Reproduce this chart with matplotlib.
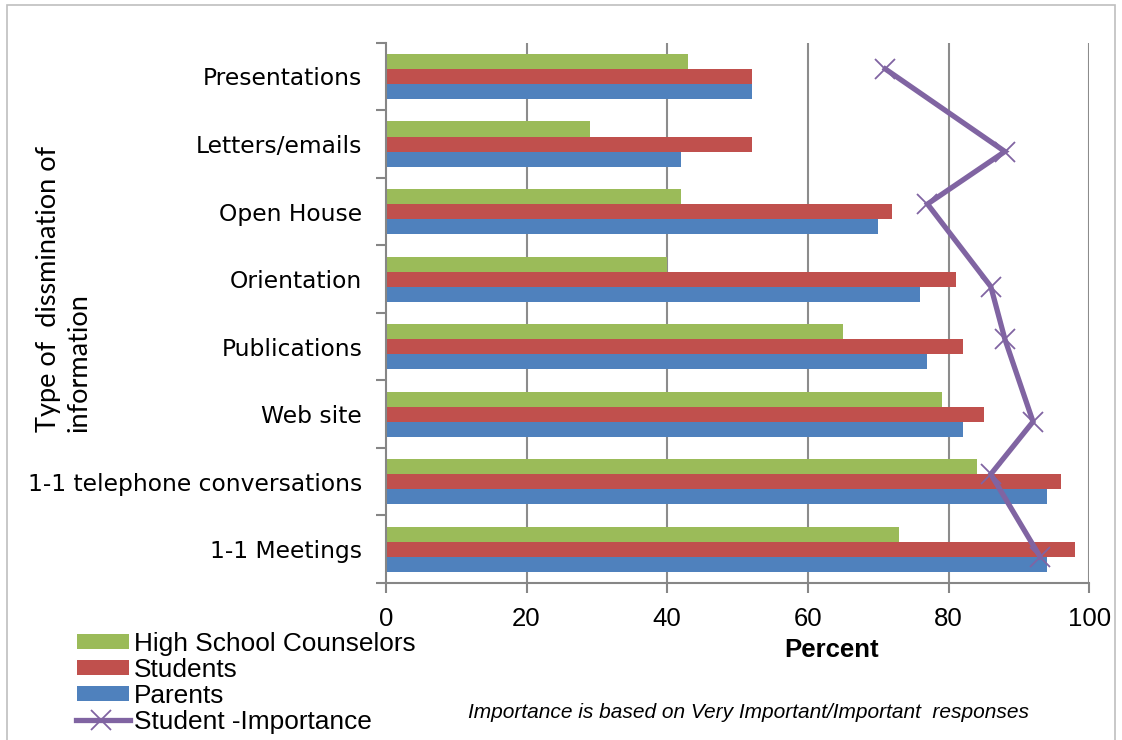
import numpy as np
import matplotlib
matplotlib.use("Agg")
import matplotlib.pyplot as plt
from matplotlib.patches import Rectangle
from matplotlib.lines import Line2D

# --- data -------------------------------------------------------------
categories = [
    "Presentations",
    "Letters/emails",
    "Open House",
    "Orientation",
    "Publications",
    "Web site",
    "1-1 telephone conversations",
    "1-1 Meetings",
]
counselors = [43, 29, 42, 40, 65, 79, 84, 73]
students = [52, 52, 72, 81, 82, 85, 96, 98]
parents = [52, 42, 70, 76, 77, 82, 94, 94]
student_importance = [71, 88, 77, 86, 88, 92, 86, 93]

series_names = ["High School Counselors", "Students", "Parents", "Student -Importance"]
x_ticks = [0, 20, 40, 60, 80, 100]

# --- styling ----------------------------------------------------------
GREEN = "#9BBB59"
RED = "#C0504D"
BLUE = "#4F81BD"
PURPLE = "#8064A2"
GRID = "#8C8C8C"
AXIS = "#868686"

W, H = 1122, 740
fig = plt.figure(figsize=(W / 100, H / 100), dpi=100)


def fx(px):
    return px / W


def fy(py):
    return 1 - py / H


# outer chart frame
fig.add_artist(Rectangle((fx(7), fy(760)), fx(1115) - fx(7), fy(5) - fy(760),
                         transform=fig.transFigure, fill=False,
                         edgecolor="#BFBFBF", linewidth=1.2))

left_px, right_px, top_px, bottom_px = 385.8, 1089.3, 42.7, 583.0
ax = fig.add_axes([fx(left_px), fy(bottom_px),
                   fx(right_px) - fx(left_px), fy(top_px) - fy(bottom_px)])

idx = np.arange(len(categories))
bar_h = 1 / 4.5

ax.barh(idx - bar_h, counselors, height=bar_h, color=GREEN, zorder=2)
ax.barh(idx, students, height=bar_h, color=RED, zorder=2)
ax.barh(idx + bar_h, parents, height=bar_h, color=BLUE, zorder=2)

# importance line runs along alternating bar seams
side = np.where(idx % 2 == 0, -0.5, 0.5) * bar_h
ax.plot(student_importance, idx + side, color=PURPLE, linewidth=3.8,
        marker="x", markersize=14, markeredgewidth=1.3,
        solid_joinstyle="miter", zorder=4, clip_on=False)

ax.set_xlim(0, 100)
ax.set_ylim(len(categories) - 0.5, -0.5)

for v in x_ticks[1:]:
    ax.axvline(v, color=GRID, linewidth=1.5, zorder=1)

ax.set_xticks(x_ticks)
ax.set_xticklabels([str(v) for v in x_ticks], fontsize=18.5,
                   family="Liberation Sans")
ax.tick_params(axis="x", direction="out", length=7, width=1.5, color=AXIS,
               pad=10)

ax.set_yticks(idx)
ax.set_yticklabels(categories, fontsize=16.8, family="DejaVu Sans")
ax.tick_params(axis="y", which="major", length=0, pad=17)
ax.set_yticks(np.arange(len(categories) + 1) - 0.5, minor=True)
ax.tick_params(axis="y", which="minor", direction="out", length=7,
               width=1.5, color=AXIS)

for s in ["top", "right"]:
    ax.spines[s].set_visible(False)
for s in ["left", "bottom"]:
    ax.spines[s].set_color(AXIS)
    ax.spines[s].set_linewidth(1.5)

# axis titles and note
fig.text(fx(832), fy(650), "Percent", fontsize=18.5, fontweight="bold",
         family="Liberation Sans", ha="center", va="center")
fig.text(fx(748.5), fy(712),
         "Importance is based on Very Important/Important  responses",
         fontsize=15, style="italic", family="Liberation Sans",
         ha="center", va="center")
fig.text(fx(64), fy(432), "Type of  dissmination of\ninformation",
         rotation=90, fontsize=19.5, family="Lato", ha="center", va="bottom",
         multialignment="left", linespacing=1.3)

# legend
rows_y = [641.7, 667.6, 693.8, 720.0]
colors = [GREEN, RED, BLUE]
for yy, c in zip(rows_y[:3], colors):
    fig.add_artist(Rectangle((fx(77), fy(yy + 7.5)), fx(129) - fx(77),
                             fy(yy - 7.5) - fy(yy + 7.5),
                             transform=fig.transFigure, facecolor=c,
                             edgecolor="none"))
fig.add_artist(Line2D([fx(76), fx(130)], [fy(rows_y[3])] * 2,
                      transform=fig.transFigure, color=PURPLE, linewidth=3.8))
fig.add_artist(Line2D([fx(101)], [fy(rows_y[3])], transform=fig.transFigure,
                      color=PURPLE, marker="x", markersize=14,
                      markeredgewidth=1.3, linestyle="none"))
for yy, name in zip(rows_y, series_names):
    fig.text(fx(134), fy(yy), name, fontsize=18.9, family="Liberation Sans",
             ha="left", va="center_baseline")

fig.savefig("out.png", dpi=100)
